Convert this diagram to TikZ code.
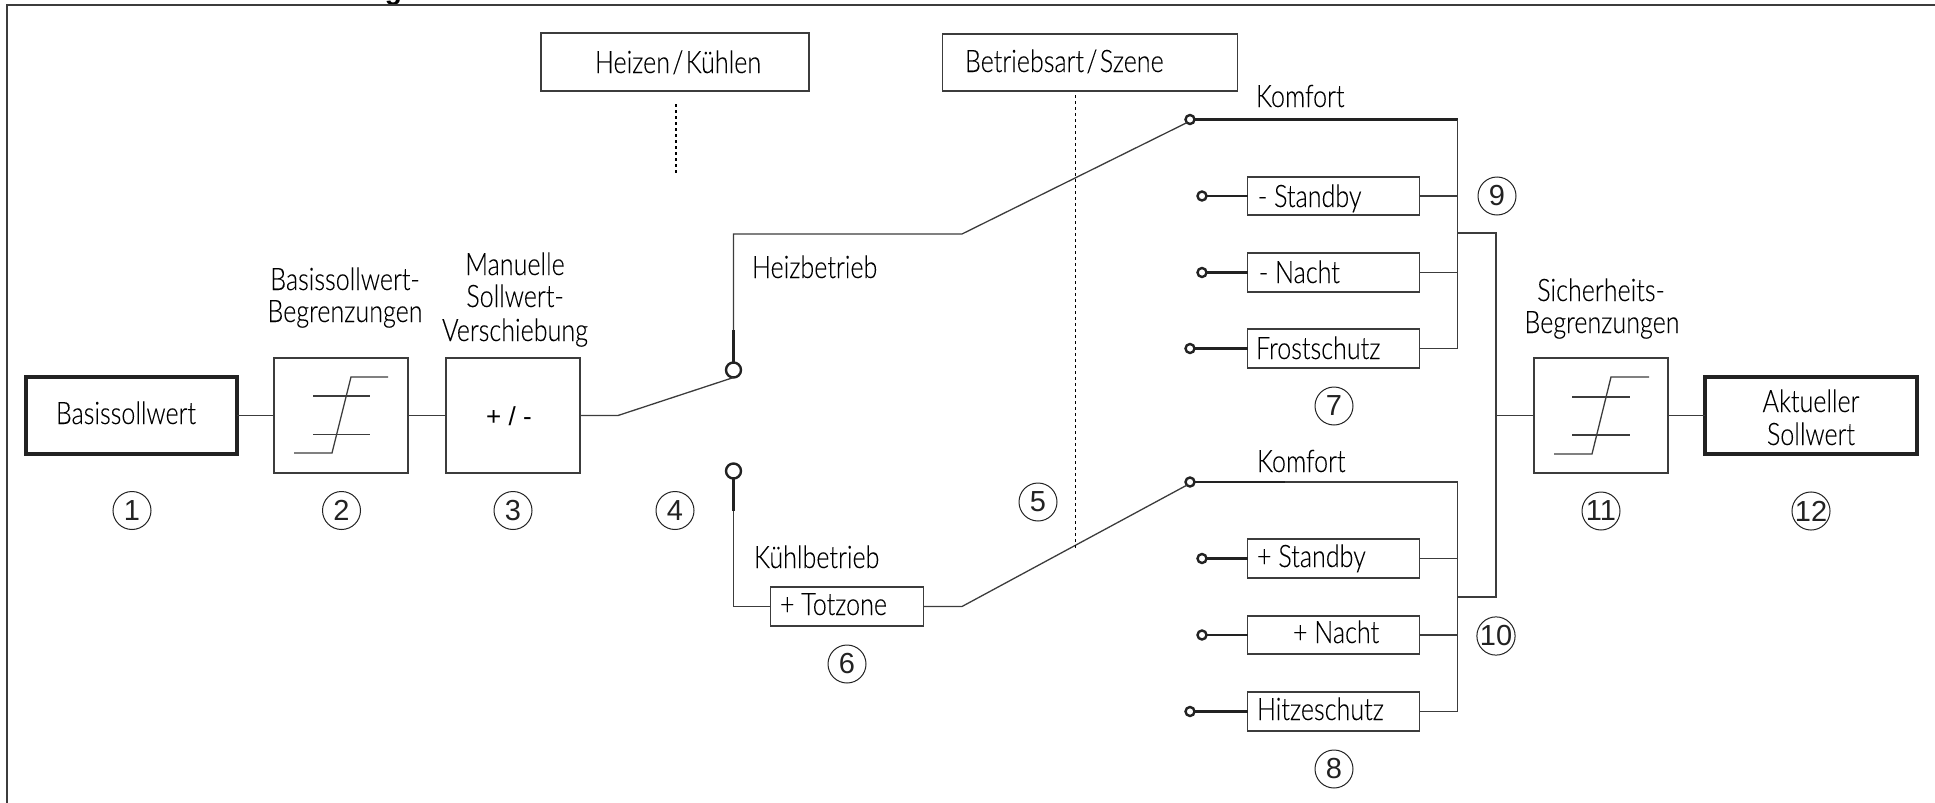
\documentclass[tikz,border=0pt]{standalone}
\usepackage{fontspec}
\setmainfont{Lato Light}[FakeStretch=0.81,FakeBold=0.12]
\newfontfamily\numfont{Liberation Sans}
\newcommand{\slashgap}{\kern1.2pt/\kern1.2pt}
\definecolor{ln}{HTML}{3C3C3C}
\definecolor{tx}{HTML}{222222}
\tikzset{
  frame/.style={draw=ln,line width=0.7pt},
  wire/.style={draw=ln,line width=0.65pt},
  boldwire/.style={draw=tx,line width=1.2pt},
  pbox/.style 2 args={draw=ln,line width=0.7pt,inner sep=0pt,outer sep=0pt,minimum width=#1*0.5pt,minimum height=#2*0.5pt},
  heavybox/.style={draw=tx,line width=2pt},
  bigpin/.style={circle,draw=tx,line width=1.2pt,inner sep=0pt,outer sep=0pt,minimum size=7.5pt,fill=white},
  smallpin/.style={circle,draw=tx,line width=1.2pt,inner sep=0pt,outer sep=0pt,minimum size=4.5pt,fill=white},
  numc/.style={circle,draw=tx,line width=0.5pt,inner sep=0pt,minimum size=19pt,font=\numfont\fontsize{14.5}{14.5}\selectfont,text=tx},
  lab/.style={inner sep=0pt,outer sep=0pt,font=\fontsize{15.5}{15.5}\selectfont,text=black},
  dots/.style={draw=black,line width=0.7pt,dash pattern=on 1.5pt off 1.5pt},
}
\begin{document}
\begin{tikzpicture}[x=0.5pt,y=-0.5pt]
\useasboundingbox (0,0) rectangle (1935,803);
% clipped remnant of a cut-off heading
\begin{scope}
\clip (0,0) rectangle (1935,6);
\node[inner sep=0pt,anchor=base,font=\numfont\bfseries\fontsize{14}{14}\selectfont] (cut) at (393.5,-1) {g};
\end{scope}
% frame
\draw[frame] (7,803) -- (7,5) -- (1935,5);
% boxes
\node[pbox={211}{77},heavybox] (b1) at (131.5,415.5) {};
\node[pbox={134}{115}] (b2) at (341,415.5) {};
\node[pbox={134}{115}] (b3) at (513,415.5) {};
\node[pbox={134}{115}] (b11) at (1601,415.5) {};
\node[pbox={212}{77},heavybox] (b12) at (1811,415.5) {};
\node[pbox={268}{58}] (bhk) at (675,62) {};
\node[pbox={295}{57}] (bbs) at (1090,62.5) {};
\node[pbox={153}{39}] (btz) at (847,606.5) {};
\node[pbox={172}{38}] (bs1) at (1333.5,196) {};
\node[pbox={172}{39}] (bn1) at (1333.5,272.5) {};
\node[pbox={172}{39}] (bf1) at (1333.5,348.5) {};
\node[pbox={172}{39}] (bs2) at (1333.5,558.5) {};
\node[pbox={172}{38}] (bn2) at (1333.5,635) {};
\node[pbox={172}{39}] (bh2) at (1333.5,711.5) {};
% limiter symbols
\draw[wire] (294,453) -- (332,453) -- (351,377) -- (388,377);
\draw[wire] (313,396) -- (370,396) (313,434.5) -- (370,434.5);
\draw[wire] (1554,454) -- (1592,454) -- (1611,377) -- (1649,377);
\draw[wire] (1572,397) -- (1630,397) (1572,435) -- (1630,435);
% junction coordinates
\coordinate (a1) at (618,415.5);
\coordinate (up1) at (733.5,330);
\coordinate (up2) at (733.5,234);
\coordinate (bend1) at (962,234);
\coordinate (lo1) at (733.5,511);
\coordinate (lo2) at (733.5,606.5);
\coordinate (bend2) at (962,606.5);
\coordinate (k1end) at (1457.5,119.5);
\coordinate (k2th) at (1285,482);
\coordinate (k2end) at (1457.5,482);
\coordinate (busup) at (1457.5,233);
\coordinate (busdn) at (1457.5,597);
\coordinate (mtop) at (1496,233);
\coordinate (mbot) at (1496,597);
\coordinate (mmid) at (1496,415.5);
\coordinate (d1a) at (676,104);
\coordinate (d1b) at (676,174);
\coordinate (d2a) at (1075.5,95);
\coordinate (d2b) at (1075.5,548);
% pins
\node[bigpin] (swu) at (733.5,370) {};
\node[bigpin] (swl) at (733.5,471) {};
\node[smallpin] (k1) at (1190,119.5) {};
\node[smallpin] (k2) at (1190,482) {};
\node[smallpin] (ps1) at (1202,196) {};
\node[smallpin] (pn1) at (1202,272.5) {};
\node[smallpin] (pf1) at (1190,348.5) {};
\node[smallpin] (ps2) at (1202,558.5) {};
\node[smallpin] (pn2) at (1202,635) {};
\node[smallpin] (ph2) at (1190,711.5) {};
% connectors
\draw[wire] (b1.east) -- (b2.west);
\draw[wire] (b2.east) -- (b3.west);
\draw[wire] (b3.east) -- (a1) -- (swu.south);
\draw[boldwire] (swu.north) -- (up1);
\draw[wire] (up1) -- (up2) -- (bend1) -- (k1.south west);
\draw[boldwire] (swl.south) -- (lo1);
\draw[wire] (lo1) -- (lo2) -- (btz.west);
\draw[wire] (btz.east) -- (bend2) -- (k2.south west);
\draw[boldwire] (k1.east) -- (k1end);
\draw[boldwire] (k2.east) -- (k2th);
\draw[wire] (k2th) -- (k2end);
\draw[wire] (k1end) -- (bf1.east -| k1end) -- (bf1.east);
\draw[wire] (bs1.east) -- (bs1.east -| k1end);
\draw[wire] (bn1.east) -- (bn1.east -| k1end);
\draw[wire] (k2end) -- (bh2.east -| k2end) -- (bh2.east);
\draw[wire] (bs2.east) -- (bs2.east -| k2end);
\draw[wire] (bn2.east) -- (bn2.east -| k2end);
\draw[boldwire] (ps1.east) -- (bs1.west);
\draw[boldwire] (pn1.east) -- (bn1.west);
\draw[boldwire] (pf1.east) -- (bf1.west);
\draw[boldwire] (ps2.east) -- (bs2.west);
\draw[boldwire] (pn2.east) -- (bn2.west);
\draw[boldwire] (ph2.east) -- (bh2.west);
\draw[wire] (busup) -- (mtop) -- (mbot) -- (busdn);
\draw[wire,line width=0.9pt] (mtop) -- (mbot);
\draw[wire] (mmid) -- (b11.west);
\draw[wire] (b11.east) -- (b12.west);
\draw[dots] (d1a) -- (d1b);
\draw[dots] (d2a) -- (d2b);
% labels
\node[lab,anchor=base] (t1) at (126,424) {Basissollwert};
\node[lab,anchor=base] (t3) at (509,425) {\numfont\fontsize{13}{13}\selectfont + / -};
\node[lab,anchor=base] (t2a) at (345,290) {Basissollwert-};
\node[lab,anchor=base] (t2b) at (345,322) {Begrenzungen};
\node[lab,anchor=base] (t3a) at (515,275) {Manuelle};
\node[lab,anchor=base] (t3b) at (515,307) {Sollwert-};
\node[lab,anchor=base] (t3c) at (515,341) {Verschiebung};
\node[lab,anchor=base] (thk) at (678,73) {Heizen\slashgap Kühlen};
\node[lab,anchor=base west] (tbs) at (965,72) {Betriebsart\slashgap Szene};
\node[lab,anchor=base west] (tk1) at (1256,107) {Komfort};
\node[lab,anchor=base west] (tk2) at (1257,472) {Komfort};
\node[lab,anchor=base west] (the) at (752,278) {Heizbetrieb};
\node[lab,anchor=base west] (tku) at (754,568) {Kühlbetrieb};
\node[lab,anchor=base west] (ttz) at (780,615) {+ Totzone};
\node[lab,anchor=base west] (ts1) at (1258,207) {- Standby};
\node[lab,anchor=base west] (tn1) at (1259,283) {- Nacht};
\node[lab,anchor=base west] (tf1) at (1256,359) {Frostschutz};
\node[lab,anchor=base west] (ts2) at (1257,567) {+ Standby};
\node[lab,anchor=base west] (tn2) at (1293,643) {+ Nacht};
\node[lab,anchor=base west] (th2) at (1257,720) {Hitzeschutz};
\node[lab,anchor=base] (t11a) at (1601,301) {Sicherheits-};
\node[lab,anchor=base] (t11b) at (1602,333) {Begrenzungen};
\node[lab,anchor=base] (t12a) at (1811,412) {Aktueller};
\node[lab,anchor=base] (t12b) at (1811,445) {Sollwert};
% numbers
\node[numc] (n1) at (132,510.5) {1};
\node[numc] (n2) at (341.5,510.5) {2};
\node[numc] (n3) at (513,510.5) {3};
\node[numc] (n4) at (675,510.5) {4};
\node[numc] (n5) at (1038,502) {5};
\node[numc] (n6) at (847,664) {6};
\node[numc] (n7) at (1334,406) {7};
\node[numc] (n8) at (1334,769) {8};
\node[numc] (n9) at (1497,196) {9};
\node[numc] (n10) at (1496,636) {10};
\node[numc] (n11) at (1601,511) {11};
\node[numc] (n12) at (1811,511) {12};
\end{tikzpicture}
\end{document}
